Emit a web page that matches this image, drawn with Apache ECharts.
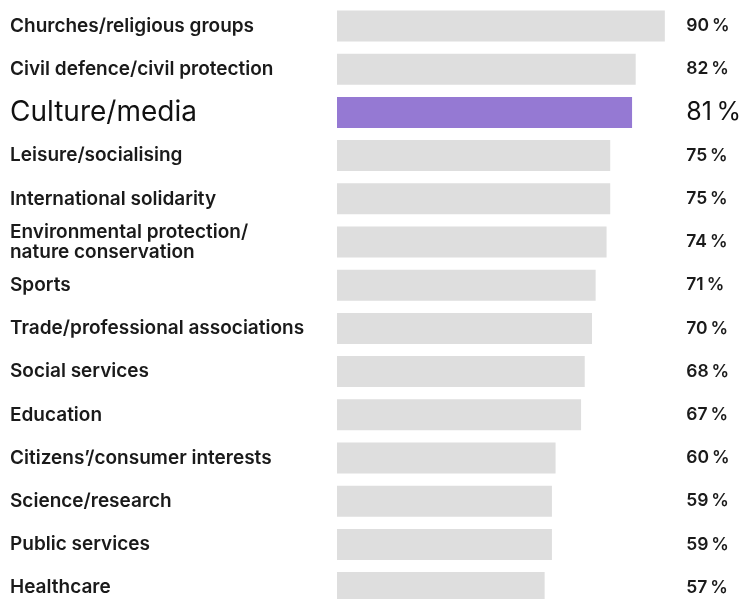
<!DOCTYPE html>
<html><head><meta charset="utf-8">
<script src="https://cdn.jsdelivr.net/npm/echarts@6/dist/echarts.min.js"></script>
<style>html,body{margin:0;padding:0;background:#fff;overflow:hidden}#c{width:744px;height:620px}</style>
</head><body><div id="c"></div>
<script>
const categories = [
  "Churches/religious groups",
  "Civil defence/civil protection",
  "Culture/media",
  "Leisure/socialising",
  "International solidarity",
  "Environmental protection/\nnature conservation",
  "Sports",
  "Trade/professional associations",
  "Social services",
  "Education",
  "Citizens\u2019/consumer interests",
  "Science/research",
  "Public services",
  "Healthcare"
];
const values = [90, 82, 81, 75, 75, 74, 71, 70, 68, 67, 60, 59, 59, 57];
const highlight = "Culture/media";

const FONT = "Inter";
const chart = echarts.init(document.getElementById('c'), null, {renderer: 'canvas'});
chart.setOption({
  animation: false,
  backgroundColor: '#fff',
  grid: {left: 337, top: 4.4, width: 366, height: 604.8, containLabel: false},
  xAxis: {type: 'value', min: 0, max: 100, show: false},
  yAxis: [
    {
      type: 'category', data: categories, inverse: true, position: 'left',
      axisLine: {show: false}, axisTick: {show: false}, splitLine: {show: false},
      axisLabel: {
        align: 'left', margin: 327, interval: 0,
        formatter: v => v === highlight ? '{hl|' + v + '}' : '{n|' + v.split('\n').join('}\n{n|') + '}',
        rich: {
          n: {fontFamily: FONT, fontSize: 19, fontWeight: 600, color: '#1a1a1a', lineHeight: 20},
          hl: {fontFamily: FONT, fontSize: 28, fontWeight: 400, color: '#111', lineHeight: 30}
        }
      }
    },
    {
      type: 'category', data: categories, inverse: true, position: 'right',
      axisLine: {show: false}, axisTick: {show: false}, splitLine: {show: false},
      axisLabel: {
        align: 'left', margin: -15, interval: 0,
        formatter: (v, i) => v === highlight ? '{hl|' + values[i] + '\u2009%}' : '{n|' + values[i] + '\u2009%}',
        rich: {
          n: {fontFamily: FONT, fontSize: 17.5, fontWeight: 600, color: '#1a1a1a'},
          hl: {fontFamily: FONT, fontSize: 25, fontWeight: 400, color: '#111'}
        }
      }
    }
  ],
  series: [{
    type: 'bar', barWidth: 31, yAxisIndex: 0,
    data: values.map((v, i) => ({value: v, itemStyle: {color: categories[i] === highlight ? '#9579d3' : '#dedede'}})),
    silent: true
  }]
});
</script></body></html>
